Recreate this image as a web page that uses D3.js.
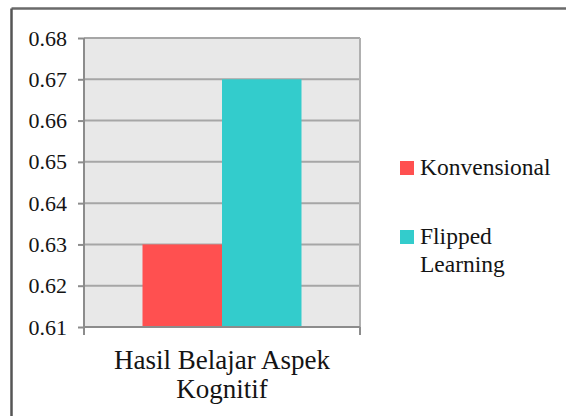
<!DOCTYPE html>
<html>
<head>
<meta charset="utf-8">
<script src="https://cdn.jsdelivr.net/npm/d3@7"></script>
<style>
  html, body { margin: 0; padding: 0; background: #fff; }
  svg { display: block; }
</style>
</head>
<body>
<script>
const categories = ["Hasil Belajar Aspek Kognitif"];
const categoryLines = [["Hasil Belajar Aspek", "Kognitif"]];
const seriesNames = ["Konvensional", "Flipped Learning"];
const legendLines = [["Konvensional"], ["Flipped", "Learning"]];
const konvensional = [0.63];
const flippedLearning = [0.67];
const yTicks = [0.61, 0.62, 0.63, 0.64, 0.65, 0.66, 0.67, 0.68];
const colors = ["#FF5050", "#33CCCC"];

const FONT = "'Liberation Serif'";
const TXT = "#141414";
const W = 566, H = 416;
const svg = d3.select("body").append("svg").attr("width", W).attr("height", H);

// outer frame
svg.append("line").attr("x1", 11.5).attr("x2", W + 5).attr("y1", 8.5).attr("y2", 8.5)
  .attr("stroke", "#6a6a6a").attr("stroke-width", 2.5);
svg.append("line").attr("x1", 11.5).attr("x2", 11.5).attr("y1", 8.5).attr("y2", H + 5)
  .attr("stroke", "#555").attr("stroke-width", 2.5);

const plot = { left: 84, right: 360, top: 38, bottom: 327 };

const y = d3.scaleLinear().domain([0.61, 0.68]).range([plot.bottom, plot.top]);
const x0 = d3.scaleBand().domain(categories).range([plot.left, plot.right])
  .paddingInner(0).paddingOuter(0.368);
const x1 = d3.scaleBand().domain(seriesNames).range([0, x0.bandwidth()]).padding(0);

// background
svg.append("rect").attr("x", plot.left).attr("y", plot.top)
  .attr("width", plot.right - plot.left).attr("height", plot.bottom - plot.top)
  .attr("fill", "#E8E8E8");

// gridlines
svg.append("g").selectAll("line").data(yTicks).join("line")
  .attr("x1", plot.left).attr("x2", plot.right)
  .attr("y1", d => y(d)).attr("y2", d => y(d))
  .attr("stroke", "#A6A6A6").attr("stroke-width", 2);

// right border of plot area
svg.append("line").attr("x1", plot.right).attr("x2", plot.right)
  .attr("y1", plot.top).attr("y2", plot.bottom).attr("stroke", "#B0B0B0").attr("stroke-width", 2);

// bars
const seriesData = [konvensional, flippedLearning];
categories.forEach((c, ci) => {
  seriesNames.forEach((s, si) => {
    svg.append("rect")
      .attr("x", x0(c) + x1(s))
      .attr("y", y(seriesData[si][ci]))
      .attr("width", x1.bandwidth())
      .attr("height", y(0.61) - y(seriesData[si][ci]))
      .attr("fill", colors[si]);
  });
});

// y axis
const yAxis = svg.append("g").attr("transform", `translate(${plot.left},0)`)
  .call(d3.axisLeft(y).tickValues(yTicks).tickFormat(d3.format(".2f")).tickSize(6).tickPadding(11));
yAxis.select(".domain").attr("stroke", "#8C8C8C").attr("stroke-width", 2)
  .attr("d", `M0,${plot.top}V${plot.bottom + 8}`);
yAxis.selectAll(".tick line").attr("stroke", "#8C8C8C").attr("stroke-width", 2);
yAxis.selectAll(".tick text").style("font-size", "22px").style("fill", TXT)
  .style("font-family", FONT);

// x axis
const xAxis = svg.append("g").attr("transform", `translate(0,${plot.bottom})`);
xAxis.append("line").attr("x1", plot.left).attr("x2", plot.right).attr("y1", 0).attr("y2", 0)
  .attr("stroke", "#8C8C8C").attr("stroke-width", 2);
xAxis.append("line").attr("x1", plot.right).attr("x2", plot.right).attr("y1", 0).attr("y2", 8)
  .attr("stroke", "#8C8C8C").attr("stroke-width", 2);

categories.forEach((c, ci) => {
  const cx = x0(c) + x0.bandwidth() / 2;
  const t = svg.append("text").attr("text-anchor", "middle")
    .style("font-size", "27px").style("font-family", FONT).style("fill", TXT);
  categoryLines[ci].forEach((ln, li) => {
    t.append("tspan").attr("x", cx).attr("y", 369 + li * 29).text(ln);
  });
});

// legend
const legendY = [175, 244];
seriesNames.forEach((s, si) => {
  const g = svg.append("g");
  g.append("rect").attr("x", 400).attr("y", legendY[si] - 14).attr("width", 14).attr("height", 14)
    .attr("fill", colors[si]);
  const t = g.append("text").style("font-size", "23.5px").style("font-family", FONT).style("fill", TXT);
  legendLines[si].forEach((ln, li) => {
    t.append("tspan").attr("x", 420).attr("y", legendY[si] + li * 28).text(ln);
  });
});
</script>
</body>
</html>
